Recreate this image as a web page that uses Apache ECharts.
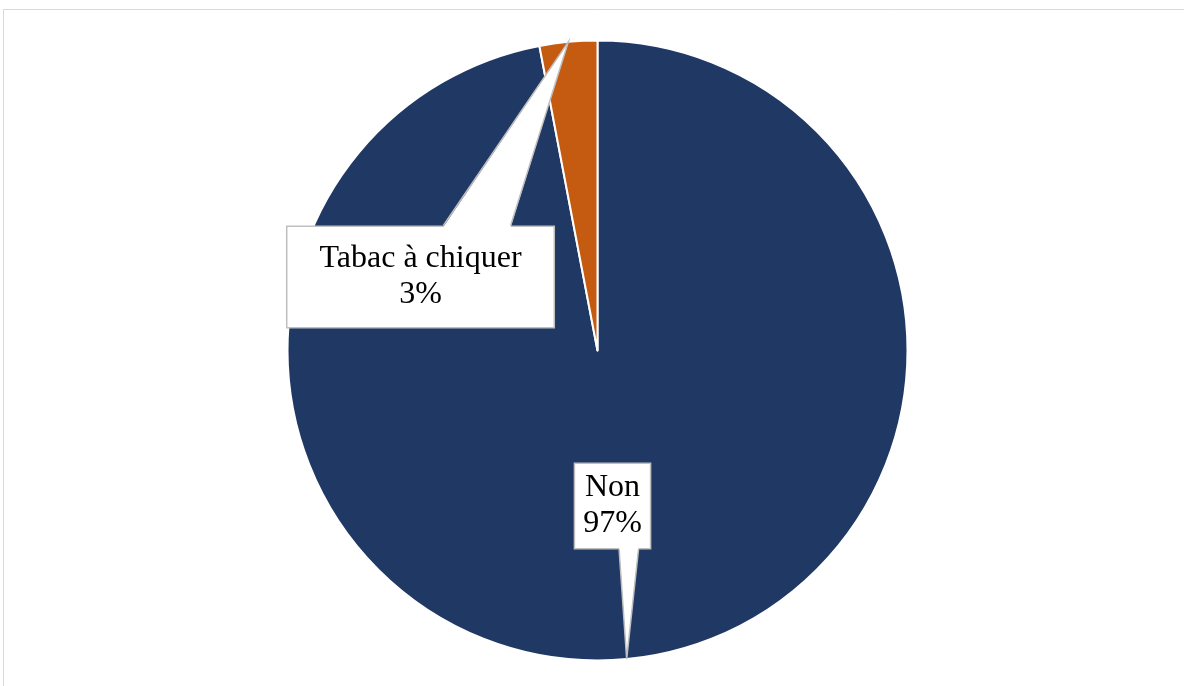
<!DOCTYPE html>
<html>
<head>
<meta charset="utf-8">
<script src="https://cdn.jsdelivr.net/npm/echarts@6/dist/echarts.min.js"></script>
<style>
html,body{margin:0;padding:0;background:#fff;}
#c{width:1184px;height:686px;}
</style>
</head>
<body>
<div id="c"></div>
<script>
// ---- data ----
const categories = ['Non', 'Tabac à chiquer'];
const values = [97, 3];
const colors = ['#203864', '#C55A11'];

// ---- layout ----
const CX = 597.5, CY = 350.5, R = 310;
const labelCenters = [[612.5, 506], [420.5, 277]];
const labelPadding = [[6, 8], [14, 32]];
const FONT = "'Liberation Serif', 'Times New Roman', serif";

const chart = echarts.init(document.getElementById('c'), null, {renderer: 'canvas'});
const rects = {};

const data = categories.map((name, i) => ({
  name: name,
  value: values[i],
  itemStyle: { color: colors[i] },
  label: { padding: labelPadding[i] }
}));

chart.setOption({
  animation: false,
  backgroundColor: '#fff',
  series: [{
    type: 'pie',
    center: [CX, CY],
    radius: [0, R],
    startAngle: 90,
    clockwise: true,
    silent: true,
    percentPrecision: 0,
    itemStyle: { borderColor: '#ffffff', borderWidth: 2 },
    label: {
      show: true,
      formatter: '{b}\n{d}%',
      fontFamily: FONT,
      fontSize: 32,
      lineHeight: 36,
      color: '#000',
      align: 'center',
      backgroundColor: '#ffffff',
      borderColor: '#bfbfbf',
      borderWidth: 1.5
    },
    labelLine: { show: false },
    labelLayout: function (p) {
      rects[p.dataIndex] = p.labelRect;
      const c = labelCenters[p.dataIndex];
      return { x: c[0], y: c[1], align: 'center', verticalAlign: 'middle' };
    },
    data: data
  }]
});

// ---- callout pointers, derived from slice mid-angles and label boxes ----
const total = values.reduce((a, b) => a + b, 0);
let cum = 0;
const elements = [{
  type: 'rect', z: 0, silent: true,
  shape: { x: 3.5, y: 9.5, width: 1300, height: 800 },
  style: { fill: 'none', stroke: '#d9d9d9', lineWidth: 1 }
}];
values.forEach((v, i) => {
  const mid = (cum + v / 2) / total;
  cum += v;
  const th = mid * 2 * Math.PI;
  const tip = [CX + R * Math.sin(th), CY - R * Math.cos(th)];
  const c = labelCenters[i];
  const r = rects[i] || { width: 100, height: 80 };
  const w = r.width, h = r.height;
  const left = c[0] - w / 2;
  const x1 = left + w * 0.585, x2 = left + w * 0.835;
  const up = tip[1] < c[1];
  const edge = up ? c[1] - h / 2 : c[1] + h / 2;
  const inset = up ? 1.5 : -1.5;
  elements.push({
    type: 'polygon', z: 100, silent: true,
    shape: { points: [[x1, edge + inset], tip, [x2, edge + inset]] },
    style: { fill: '#ffffff', stroke: null }
  });
  elements.push({
    type: 'polyline', z: 101, silent: true,
    shape: { points: [[x1, edge], tip, [x2, edge]] },
    style: { fill: null, stroke: '#bfbfbf', lineWidth: 1.5 }
  });
});
chart.setOption({ graphic: { elements: elements } });
</script>
</body>
</html>
